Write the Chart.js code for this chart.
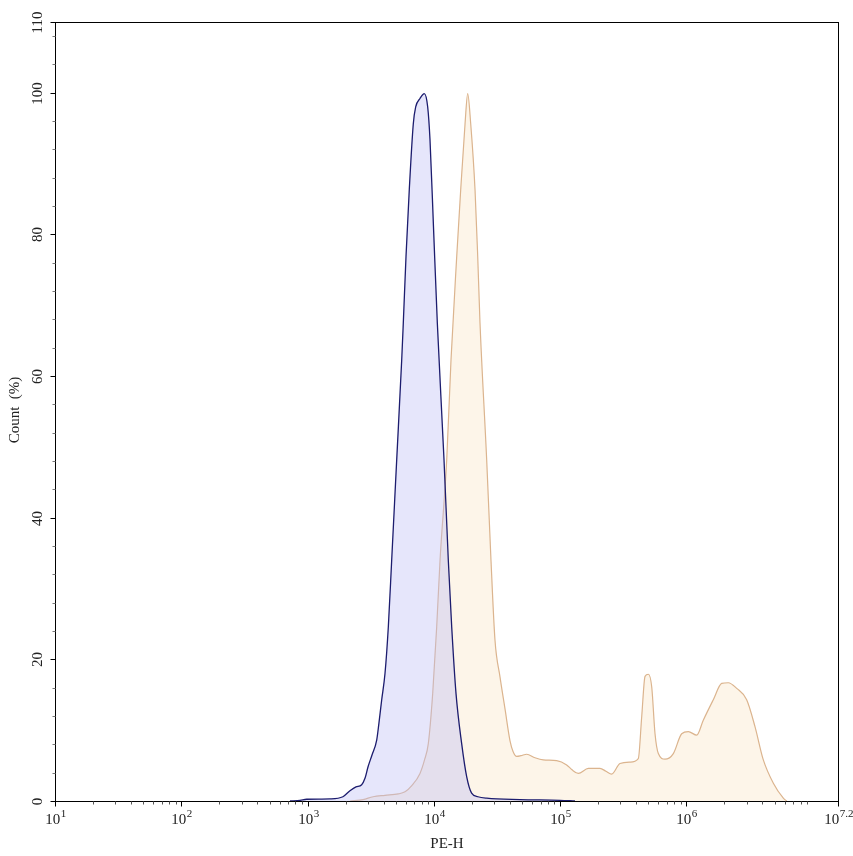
<!DOCTYPE html>
<html>
<head>
<meta charset="utf-8">
<script src="https://cdn.jsdelivr.net/npm/chart.js@4.4.1/dist/chart.umd.min.js"></script>
<style>
html,body{margin:0;padding:0;background:#fff;}
#wrap{width:853px;height:856px;position:relative;}
</style>
</head>
<body>
<div id="wrap"><canvas id="c" width="853" height="856"></canvas></div>
<script>
// Blue (control) histogram: PE-H value and Count (%)
const blueX = [726, 871, 984, 1503, 1905, 2166, 2417, 2680, 2848, 3008, 3237, 3526, 3673, 3863, 4102, 4356, 4634, 5079, 5564, 5727, 6017, 6387, 6871, 7178, 7766, 8398, 8935, 9317, 9903, 10650, 12030, 13010, 13840, 14970, 16600, 18200, 19900, 22330, 26170, 48060, 99700, 131000];
const blueY = [0, 0.1, 0.25, 0.3, 0.6, 1.45, 2.0, 2.3, 3.2, 4.8, 6.5, 8.6, 11, 14.3, 18, 24.5, 34, 48.2, 62.3, 67.5, 76.9, 86.3, 95.6, 98, 99.2, 99.9, 98, 93.4, 81.6, 67.5, 48.2, 34, 24.6, 15.2, 8.1, 3.4, 1.1, 0.6, 0.4, 0.2, 0.1, 0];
// Orange (stained) histogram
const orangeX = [2170, 2750, 3300, 4100, 5230, 5906, 6714, 7766, 8433, 9036, 9791, 10530, 11190, 12640, 13670, 15170, 16310, 17650, 18530, 19580, 21180, 22240, 23190, 26190, 28330, 30480, 33410, 36590, 40080, 42350, 45300, 48980, 54330, 63180, 73580, 93790, 112600, 124100, 139300, 167100, 206700, 230600, 255800, 297700, 357300, 415600, 442300, 469900, 499300, 531000, 563800, 598900, 676600, 787400, 916800, 1035000, 1206000, 1359000, 1632000, 1901000, 2144000, 2500000, 2998000, 3489000, 4062000, 4877000, 5849000, 6223000];
const orangeY = [0, 0.2, 0.6, 0.8, 1.0, 1.3, 2.2, 3.9, 5.8, 8.1, 15.2, 24.6, 34, 48.2, 62.3, 76.9, 86.3, 95.6, 99.9, 95.6, 86.3, 76.9, 67.5, 48.2, 34, 22.7, 17.5, 13, 8.5, 7.0, 6.3, 6.4, 6.6, 6.1, 5.8, 5.7, 5.1, 4.4, 3.9, 4.6, 4.6, 4.2, 3.8, 5.3, 5.5, 6.0, 11.9, 17.6, 17.9, 16.1, 9.5, 6.7, 5.9, 6.7, 9.5, 9.8, 9.3, 11.4, 14.3, 16.6, 16.7, 15.9, 14.3, 10.5, 5.8, 2.5, 0.4, 0];
// Axis ticks
const xMajorExp = [1, 2, 3, 4, 5, 6, 7.2];
const yMajorTicks = [0, 20, 40, 60, 80, 100, 110];
const xTitle = 'PE-H';
const yTitle = 'Count  (%)';

const toPts = (xs, ys) => xs.map((x, i) => ({x: x, y: ys[i]}));
const FONT = '"Liberation Serif", "Times New Roman", serif';

const axisPlugin = {
  id: 'axisPlugin',
  afterDraw(chart) {
    const ctx = chart.ctx, a = chart.chartArea;
    const xs = chart.scales.x, ys = chart.scales.y;
    ctx.save();
    ctx.strokeStyle = '#000';
    ctx.lineWidth = 1;
    ctx.strokeRect(Math.round(a.left) + 0.5, Math.round(a.top) + 0.5, Math.round(a.right - a.left), Math.round(a.bottom - a.top));
    const yb = Math.round(a.bottom) + 0.5;
    // x minor ticks
    ctx.strokeStyle = '#555';
    for (let e = 1; e <= 7; e++) {
      for (let m = 2; m <= 9; m++) {
        const v = m * Math.pow(10, e);
        if (v > xs.max) continue;
        const px = Math.round(xs.getPixelForValue(v)) + 0.5;
        ctx.beginPath(); ctx.moveTo(px, yb); ctx.lineTo(px, yb + 3); ctx.stroke();
      }
    }
    // x major ticks + labels
    ctx.strokeStyle = '#000';
    ctx.fillStyle = '#222';
    xMajorExp.forEach(e => {
      const px = Math.round(xs.getPixelForValue(Math.pow(10, e))) + 0.5;
      ctx.beginPath(); ctx.moveTo(px, yb); ctx.lineTo(px, yb + 5); ctx.stroke();
      const base = '10', sup = String(e);
      ctx.font = '15px ' + FONT;
      const wb = ctx.measureText(base).width;
      ctx.font = '11px ' + FONT;
      const ws = ctx.measureText(sup).width;
      const start = px - (wb + ws) / 2;
      ctx.textBaseline = 'alphabetic';
      ctx.textAlign = 'left';
      ctx.font = '15px ' + FONT;
      ctx.fillText(base, start, 824);
      ctx.font = '11px ' + FONT;
      ctx.fillText(sup, start + wb + 0.5, 817);
    });
    // y minor ticks
    const xl = Math.round(a.left) + 0.5;
    ctx.strokeStyle = '#777';
    for (let v = 4; v <= 108; v += 4) {
      if (v % 20 === 0) continue;
      const py = Math.round(ys.getPixelForValue(v)) + 0.5;
      ctx.beginPath(); ctx.moveTo(xl - 3, py); ctx.lineTo(xl, py); ctx.stroke();
    }
    ctx.strokeStyle = '#000';
    yMajorTicks.forEach(v => {
      const py = Math.round(ys.getPixelForValue(v)) + 0.5;
      ctx.beginPath(); ctx.moveTo(xl - 5, py); ctx.lineTo(xl, py); ctx.stroke();
      ctx.save();
      ctx.translate(38, py);
      ctx.rotate(-Math.PI / 2);
      ctx.font = '15px ' + FONT;
      ctx.textAlign = 'center';
      ctx.textBaseline = 'middle';
      ctx.fillText(String(v), 0, 0);
      ctx.restore();
    });
    // titles
    ctx.font = '15px ' + FONT;
    ctx.textAlign = 'center';
    ctx.textBaseline = 'alphabetic';
    ctx.fillText(xTitle, 447, 848);
    ctx.save();
    ctx.translate(19, 410);
    ctx.rotate(-Math.PI / 2);
    ctx.fillText(yTitle, 0, 0);
    ctx.restore();
    ctx.restore();
  }
};

new Chart(document.getElementById('c'), {
  type: 'line',
  data: {
    datasets: [
      {
        label: 'Control',
        data: toPts(blueX, blueY),
        borderColor: '#1c1c6e',
        backgroundColor: 'rgba(190,190,245,0.38)',
        borderWidth: 1.3,
        fill: 'origin',
        pointRadius: 0,
        cubicInterpolationMode: 'monotone'
      },
      {
        label: 'PE',
        data: toPts(orangeX, orangeY),
        borderColor: '#dbb48e',
        backgroundColor: 'rgba(252,238,218,0.6)',
        borderWidth: 1.2,
        fill: 'origin',
        pointRadius: 0,
        cubicInterpolationMode: 'monotone'
      }
    ]
  },
  options: {
    responsive: false,
    animation: false,
    devicePixelRatio: 1,
    layout: {padding: {left: 55, right: 15, top: 22, bottom: 55}},
    plugins: {legend: {display: false}, tooltip: {enabled: false}},
    scales: {
      x: {type: 'logarithmic', min: 10, max: Math.pow(10, 7.2), display: false},
      y: {type: 'linear', min: 0, max: 110, display: false}
    }
  },
  plugins: [axisPlugin]
});
</script>
</body>
</html>
